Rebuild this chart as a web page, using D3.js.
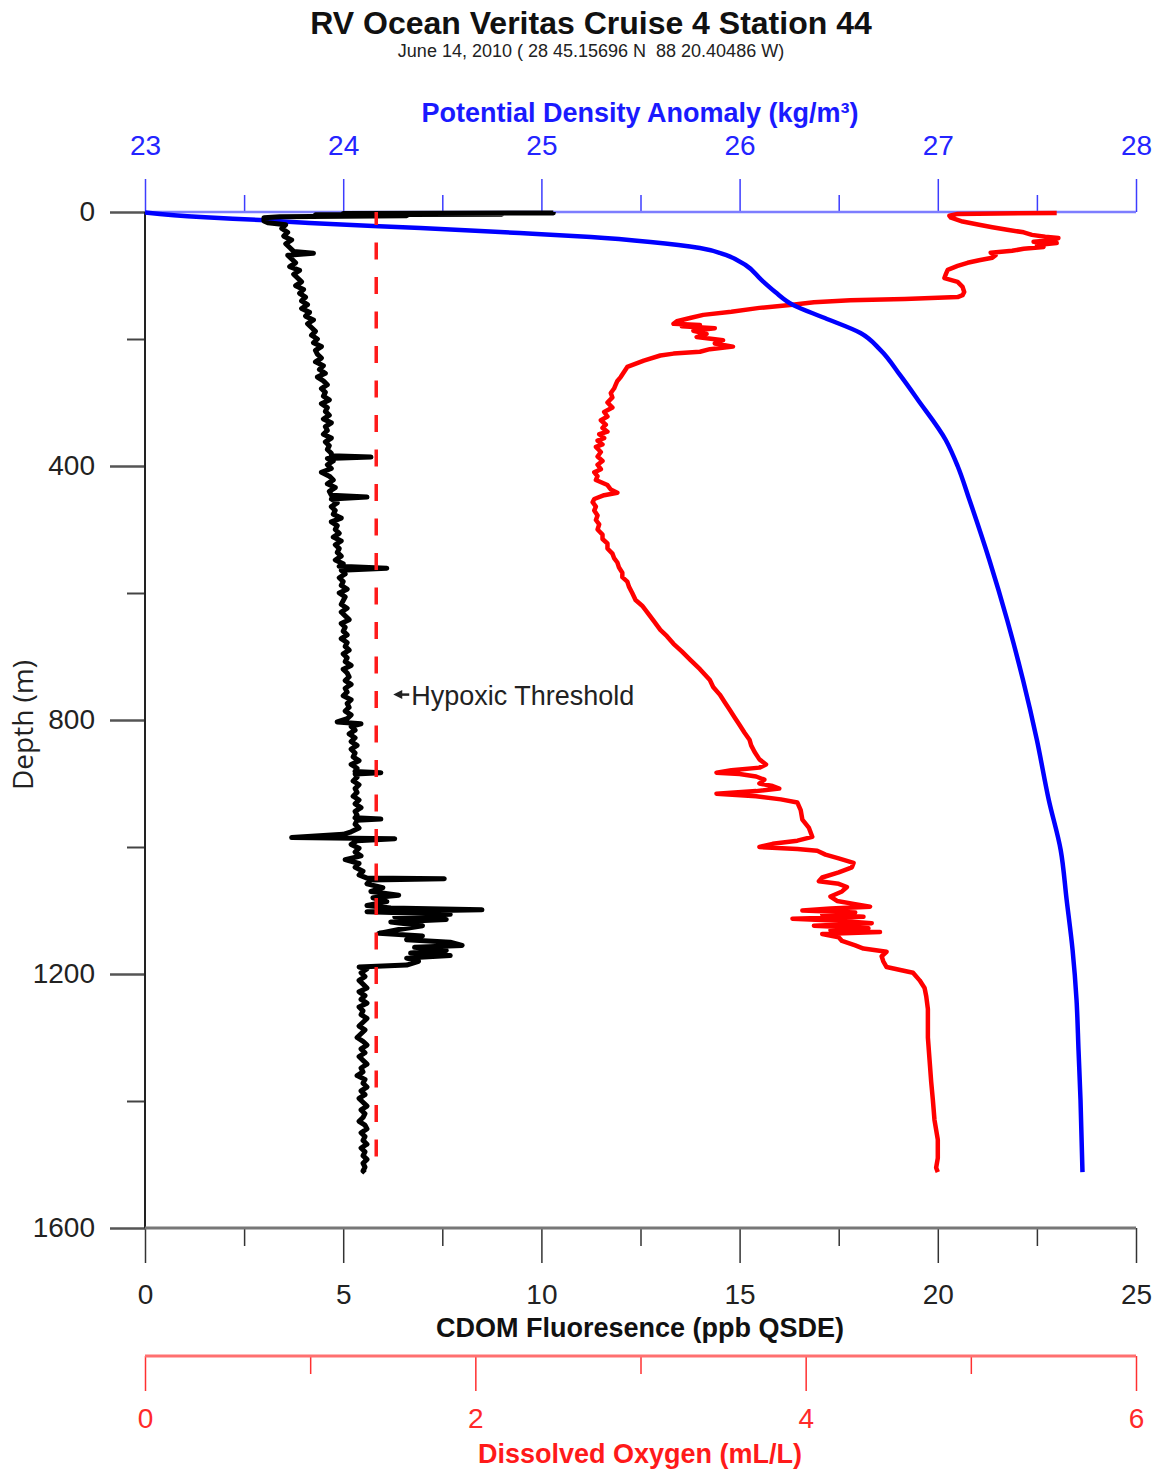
<!DOCTYPE html>
<html><head><meta charset="utf-8">
<script src="https://cdn.jsdelivr.net/npm/d3@7"></script>
<style>
body{margin:0;background:#fff}
svg text{font-family:"Liberation Sans",Arial,sans-serif}
</style>
</head><body>
<svg id="c" width="1159" height="1473"></svg>
<script>
// ---------------- DATA ----------------
const depthTicks = [0, 400, 800, 1200, 1600];
const depthMinorTicks = [200, 600, 1000, 1400];
const cdomTicks = [0, 5, 10, 15, 20, 25];
const cdomMinorTicks = [2.5, 7.5, 12.5, 17.5, 22.5];
const oxyTicks = [0, 2, 4, 6];
const oxyMinorTicks = [1, 3, 5];
const sigmaTicks = [23, 24, 25, 26, 27, 28];
const sigmaMinorTicks = [23.5, 24.5, 25.5, 26.5, 27.5];
const hypoxicThreshold = 1.4;      // mL/L
const thresholdDepthEnd = 1515;    // m

// [depth m, potential density anomaly kg/m3]
const densityProfile = [
 [0.8,23.00],[7.9,23.28],[12.6,23.58],[17.3,23.83],[25.2,24.39],[33.1,24.89],[39.4,25.25],
 [47.2,25.55],[56.7,25.80],[67.7,25.93],[83.5,26.03],[107,26.11],[126,26.18],[146.5,26.27],
 [167,26.43],[190.6,26.61],[217,26.71],[257,26.81],[296,26.90],[359,27.04],[400,27.10],
 [453.5,27.16],[548,27.26],[642.5,27.35],[737,27.43],[831.5,27.50],[926,27.56],[1004.7,27.62],
 [1083,27.65],[1162,27.68],[1241,27.70],[1320,27.71],[1398,27.72],[1512,27.73]
];

// [depth m, dissolved oxygen mL/L]
const oxygenProfile = [
 [1.5,5.52],[3,4.92],[6,4.87],[9,4.88],[15,4.95],[20,5.05],[24,5.13],[28,5.22],[32,5.32],[36,5.37],
 [39,5.45],[41,5.53],[44,5.50],[47,5.38],[49,5.52],[52,5.40],[55,5.44],[58,5.32],[61,5.25],[64,5.12],
 [68,5.15],[72,5.13],[76,5.05],[80,4.98],[85,4.92],[91,4.86],[97,4.85],[104,4.84],[110,4.92],[118,4.95],
 [126,4.96],[131,4.95],[134,4.92],[137,4.60],[139,4.27],[142,4.05],[146,3.92],[151,3.72],[157,3.55],
 [162,3.38],[167,3.30],[172,3.22],[176,3.20],[178,3.36],[180,3.25],[183,3.45],[187,3.32],[192,3.40],
 [197,3.34],[202,3.50],[207,3.45],[212,3.56],[216,3.42],[220,3.36],[223,3.20],[226,3.12],[234,3.02],
 [244,2.92],[252,2.90],[260,2.88],[266,2.86],[272,2.85],[278,2.84],[285,2.82],[292,2.83],[300,2.80],
 [308,2.83],[315,2.78],[322,2.80],[328,2.76],[335,2.79],[340,2.77],[346,2.80],[350,2.75],[356,2.78],
 [360,2.74],[366,2.77],[370,2.73],[378,2.76],[385,2.74],[392,2.77],[398,2.74],[405,2.76],[410,2.72],
 [416,2.74],[422,2.73],[430,2.80],[437,2.82],[442,2.86],[446,2.78],[452,2.72],[457,2.71],[464,2.73],
 [470,2.72],[478,2.74],[485,2.73],[492,2.75],[500,2.74],[508,2.77],[515,2.77],[522,2.80],[530,2.80],
 [538,2.83],[545,2.84],[552,2.86],[560,2.87],[568,2.89],[575,2.89],[582,2.92],[590,2.93],[600,2.95],
 [611,2.97],[620,3.01],[630,3.04],[644,3.08],[658,3.12],[668,3.16],[680,3.20],[692,3.25],[705,3.30],
 [720,3.36],[737,3.42],[748,3.44],[760,3.48],[772,3.51],[784,3.54],[796,3.57],[808,3.60],[820,3.63],
 [831,3.66],[840,3.67],[850,3.69],[862,3.72],[870,3.76],
 [875,3.72],[879,3.55],[883,3.46],[885,3.60],[889,3.70],[894,3.75],[900,3.72],[904,3.80],[908,3.84],
 [912,3.70],[916,3.46],[920,3.70],[925,3.85],[930,3.95],[942,3.97],[957,3.98],[970,4.02],[984,4.04],
 [990,3.95],[995,3.80],[1000,3.72],[1003,3.95],[1006,4.07],[1012,4.12],[1018,4.20],[1025,4.29],
 [1032,4.28],[1040,4.20],[1048,4.10],[1054,4.08],[1058,4.20],[1063,4.25],[1070,4.22],[1078,4.15],
 [1085,4.19],[1090,4.30],[1094,4.39],[1097,4.15],[1100,3.98],[1103,4.30],[1106,4.10],[1110,4.35],
 [1113,3.92],[1116,4.20],[1120,4.40],[1124,4.05],[1128,4.38],[1131,4.15],[1134,4.45],[1137,4.10],
 [1142,4.20],[1148,4.22],[1155,4.30],[1160,4.35],[1165,4.49],[1172,4.46],[1180,4.47],[1189,4.49],
 [1194,4.58],[1198,4.65],[1210,4.69],[1222,4.72],[1235,4.73],[1255,4.74],[1272,4.74],[1300,4.74],
 [1335,4.75],[1370,4.76],[1398,4.77],[1430,4.78],[1461,4.80],[1490,4.80],[1505,4.79],[1512,4.80]
];

// [depth m, CDOM fluorescence ppb QSDE]
const cdomProfile = [
 [0,10.3],[1.5,10.3],[2.5,5.0],[3.5,9.0],[4.5,4.3],[6,6.6],[7.5,3.4],[9,3.0],[14,3.0],[17,3.1],
 [20,3.55],[26,3.45],[32,3.6],[38,3.5],[44,3.7],[50,3.55],[56,3.65],
 [62,3.75],[65,4.25],[68,3.6],[74,3.7],[80,3.8],[86,3.65],[92,3.9],[98,3.75],
 [104,3.85],[110,3.95],[116,3.8],[122,4.0],[128,3.9],[134,4.05],[140,3.95],
 [146,4.1],[152,3.95],[158,4.15],[164,4.05],[170,4.25],[176,4.1],[182,4.2],
 [188,4.3],[194,4.2],[200,4.35],[206,4.25],[212,4.45],[218,4.3],[224,4.35],
 [230,4.45],[236,4.3],[242,4.5],[248,4.4],[254,4.55],[260,4.35],[266,4.5],
 [272,4.6],[278,4.45],[284,4.55],[290,4.5],[296,4.65],[302,4.45],[308,4.6],
 [314,4.55],[320,4.65],[326,4.5],[332,4.7],[338,4.55],[344,4.6],[350,4.5],
 [356,4.7],[362,4.55],[368,4.65],[374,4.6],[380,4.7],[384,4.7],[386,5.7],[388,4.6],
 [392,4.75],[398,4.6],[404,4.7],[410,4.45],[416,4.65],[422,4.75],[428,4.6],[434,4.8],[440,4.65],[446,4.7],
 [449,5.6],[452,4.7],
 [458,4.85],[464,4.7],[470,4.8],[476,4.75],[482,4.95],[488,4.7],[494,4.85],[500,4.8],[506,4.9],
 [512,4.75],[518,4.95],[524,4.8],[530,4.9],[536,4.85],[542,4.95],[548,4.8],[554,5.0],
 [558,4.9],[561,6.1],[564,4.95],
 [570,5.05],[576,4.9],[582,5.0],[588,4.95],[594,5.1],[600,4.9],[606,5.05],[612,5.0],[618,4.95],
 [624,5.1],[630,4.95],[636,5.05],[642,5.15],[648,4.95],[654,5.05],[660,5.0],[666,5.1],[672,4.95],
 [678,5.1],[684,5.05],[690,5.15],[696,5.0],[702,5.1],[708,5.05],[714,5.2],[720,5.0],[726,5.1],
 [732,5.15],[738,5.05],[744,5.2],[750,5.05],[756,5.1],[762,5.0],[768,5.2],[774,5.1],[780,5.15],
 [786,5.05],[792,5.2],[798,5.1],
 [803,4.85],[806,5.45],
 [810,5.2],[816,5.3],[822,5.15],[828,5.3],[834,5.2],[840,5.35],[846,5.2],[852,5.3],[858,5.25],
 [864,5.4],[870,5.2],[876,5.35],[881,5.3],[883,5.95],[885,5.3],
 [890,5.35],[896,5.25],[902,5.4],[908,5.3],[914,5.35],[920,5.25],[926,5.4],[932,5.3],[938,5.45],
 [944,5.3],[950,5.35],[954,5.3],[956,5.95],[958,5.35],[964,5.3],[970,5.4],[976,5.2],[980,5.0],
 [985,3.7],[987,6.3],[990,5.35],[996,5.2],[1002,5.4],[1008,5.3],[1014,5.45],[1020,5.05],[1026,5.4],
 [1032,5.3],[1038,5.5],[1044,5.4],
 [1049,5.6],[1050,7.55],[1052,5.7],[1058,5.6],[1064,6.0],[1070,5.7],[1076,6.4],[1080,5.75],[1086,6.1],
 [1092,5.6],[1096,6.2],[1099,8.5],[1102,5.6],[1106,7.7],[1110,6.3],[1114,7.6],[1118,6.2],[1124,7.0],
 [1130,6.4],[1136,5.9],[1140,7.0],[1146,6.6],[1150,7.7],[1155,8.0],[1158,6.8],[1163,7.6],[1167,6.7],
 [1171,7.7],[1175,6.6],[1180,6.9],[1186,6.6],[1189,5.4],[1192,5.6],
 [1198,5.45],[1204,5.55],[1210,5.4],[1216,5.5],[1222,5.6],[1228,5.4],[1234,5.55],[1240,5.45],
 [1246,5.6],[1252,5.4],[1258,5.5],[1264,5.45],[1270,5.6],[1276,5.5],[1282,5.4],[1288,5.55],
 [1294,5.45],[1300,5.35],[1306,5.5],[1312,5.6],[1318,5.45],[1324,5.55],[1330,5.4],[1336,5.5],
 [1342,5.6],[1348,5.45],[1354,5.5],[1360,5.35],[1366,5.55],[1372,5.5],[1378,5.6],[1384,5.45],
 [1390,5.55],[1396,5.4],[1402,5.5],[1408,5.6],[1414,5.45],[1420,5.55],[1426,5.5],[1432,5.4],
 [1438,5.55],[1444,5.6],[1450,5.45],[1456,5.55],[1462,5.5],[1468,5.6],[1474,5.45],[1480,5.55],
 [1486,5.5],[1492,5.6],[1498,5.5],[1504,5.55],[1510,5.5],[1513,5.55]
];

// ---------------- CHART ----------------
const svg = d3.select('#c');
const L = 145, R = 1136, T = 212, B = 1228, OXY_Y = 1356;

const y  = d3.scaleLinear().domain([0, 1600]).range([T, B]);
const xC = d3.scaleLinear().domain([0, 25]).range([L, R]);
const xO = d3.scaleLinear().domain([0, 6]).range([L, R]);
const xS = d3.scaleLinear().domain([23, 28]).range([L, R]);

function styleAxis(g, color, width, textColor, size) {
  g.select('.domain').remove();
  g.selectAll('.tick line').attr('stroke', color).attr('stroke-width', width);
  g.selectAll('.tick text').attr('fill', textColor).attr('font-size', size)
    .attr('font-family', '"Liberation Sans",Arial,sans-serif');
}

// Titles
svg.append('text').attr('x', 591).attr('y', 34).attr('text-anchor', 'middle')
  .attr('font-size', 32).attr('font-weight', 'bold').attr('fill', '#111')
  .text('RV Ocean Veritas Cruise 4 Station 44');
svg.append('text').attr('x', 591).attr('y', 57).attr('text-anchor', 'middle')
  .attr('font-size', 18).attr('fill', '#222').style('white-space', 'pre')
  .text('June 14, 2010 ( 28 45.15696 N  88 20.40486 W)');

// Top axis: density
const gTop = svg.append('g').attr('transform', `translate(0,${T})`);
gTop.append('g').call(d3.axisTop(xS).tickValues(sigmaMinorTicks).tickSize(17).tickSizeOuter(0).tickFormat(''))
  .call(g => styleAxis(g, '#3c3cff', 1.5, '#2424ff', 28));
gTop.append('g').call(d3.axisTop(xS).tickValues(sigmaTicks).tickSize(33).tickPadding(24).tickSizeOuter(0).tickFormat(d3.format('d')))
  .call(g => styleAxis(g, '#3c3cff', 1.5, '#2424ff', 28));
gTop.append('line').attr('x1', xS(23)).attr('x2', xS(28)).attr('y1', 0).attr('y2', 0)
  .attr('stroke', '#7d7dff').attr('stroke-width', 2.5);
svg.append('text').attr('x', 640).attr('y', 122).attr('text-anchor', 'middle')
  .attr('font-size', 27).attr('font-weight', 'bold').attr('fill', '#1a1aff')
  .text('Potential Density Anomaly (kg/m³)');

// Left axis: depth
const gLeft = svg.append('g').attr('transform', `translate(${L},0)`);
gLeft.append('g').call(d3.axisLeft(y).tickValues(depthMinorTicks).tickSize(18).tickSizeOuter(0).tickFormat(''))
  .call(g => styleAxis(g, '#444', 2, '#222', 28));
gLeft.append('g').call(d3.axisLeft(y).tickValues(depthTicks).tickSize(35).tickPadding(15).tickSizeOuter(0).tickFormat(d3.format('d')))
  .call(g => styleAxis(g, '#555', 2.5, '#222', 28));
gLeft.append('line').attr('x1', 0).attr('x2', 0).attr('y1', y(0)).attr('y2', y(1600))
  .attr('stroke', '#222').attr('stroke-width', 2);
svg.append('text').attr('transform', 'translate(33,725) rotate(-90)').attr('text-anchor', 'middle')
  .attr('font-size', 28).attr('fill', '#222').style('font-family', '"Open Sans",sans-serif')
  .text('Depth (m)');

// Bottom axis: CDOM
const gBot = svg.append('g').attr('transform', `translate(0,${B})`);
gBot.append('g').call(d3.axisBottom(xC).tickValues(cdomMinorTicks).tickSize(18).tickSizeOuter(0).tickFormat(''))
  .call(g => styleAxis(g, '#333', 1.5, '#222', 28));
gBot.append('g').call(d3.axisBottom(xC).tickValues(cdomTicks).tickSize(35).tickPadding(21).tickSizeOuter(0).tickFormat(d3.format('d')))
  .call(g => styleAxis(g, '#333', 1.5, '#222', 28));
gBot.append('line').attr('x1', xC(0)).attr('x2', xC(25)).attr('y1', 0).attr('y2', 0)
  .attr('stroke', '#777').attr('stroke-width', 3);
svg.append('text').attr('x', 640).attr('y', 1337).attr('text-anchor', 'middle')
  .attr('font-size', 27).attr('font-weight', 'bold').attr('fill', '#111')
  .text('CDOM Fluoresence (ppb QSDE)');

// Oxygen axis
const gOxy = svg.append('g').attr('transform', `translate(0,${OXY_Y})`);
gOxy.append('g').call(d3.axisBottom(xO).tickValues(oxyMinorTicks).tickSize(18).tickSizeOuter(0).tickFormat(''))
  .call(g => styleAxis(g, '#ff3030', 1.5, '#ff2a2a', 28));
gOxy.append('g').call(d3.axisBottom(xO).tickValues(oxyTicks).tickSize(35).tickPadding(17).tickSizeOuter(0).tickFormat(d3.format('d')))
  .call(g => styleAxis(g, '#ff3030', 1.5, '#ff2a2a', 28));
gOxy.append('line').attr('x1', xO(0)).attr('x2', xO(6)).attr('y1', 0).attr('y2', 0)
  .attr('stroke', '#ff7070').attr('stroke-width', 3);
svg.append('text').attr('x', 640).attr('y', 1463).attr('text-anchor', 'middle')
  .attr('font-size', 27).attr('font-weight', 'bold').attr('fill', '#ff1a1a')
  .text('Dissolved Oxygen (mL/L)');

// Profiles
const lineS = d3.line().x(d => xS(d[1])).y(d => y(d[0])).curve(d3.curveMonotoneY);
const lineO = d3.line().x(d => xO(d[1])).y(d => y(d[0]));
const lineC = d3.line().x(d => xC(d[1])).y(d => y(d[0]));

svg.append('path').datum(oxygenProfile).attr('d', lineO)
  .attr('fill', 'none').attr('stroke', '#ff0000').attr('stroke-width', 4.5).attr('stroke-linejoin', 'round');
svg.append('path').datum(densityProfile).attr('d', lineS)
  .attr('fill', 'none').attr('stroke', '#0000ff').attr('stroke-width', 4.5).attr('stroke-linejoin', 'round');
svg.append('path').datum(cdomProfile).attr('d', lineC)
  .attr('fill', 'none').attr('stroke', '#000').attr('stroke-width', 5).attr('stroke-linejoin', 'round');

// Hypoxic threshold
svg.append('line').attr('x1', xO(hypoxicThreshold)).attr('x2', xO(hypoxicThreshold))
  .attr('y1', y(0)).attr('y2', y(thresholdDepthEnd))
  .attr('stroke', '#ff1a1a').attr('stroke-width', 3.5)
  .attr('stroke-dasharray', '17,17.5').attr('stroke-dashoffset', 4);

const ay = y(760);
const ax = xO(hypoxicThreshold) + 17;
svg.append('path').attr('d', `M${ax},${ay} l9,-4.5 v9 z`).attr('fill', '#222');
svg.append('line').attr('x1', ax + 8).attr('x2', ax + 16).attr('y1', ay).attr('y2', ay)
  .attr('stroke', '#222').attr('stroke-width', 2.5);
svg.append('text').attr('x', ax + 18).attr('y', ay + 10).attr('font-size', 27).attr('fill', '#222')
  .text('Hypoxic Threshold');
</script>
</body></html>
